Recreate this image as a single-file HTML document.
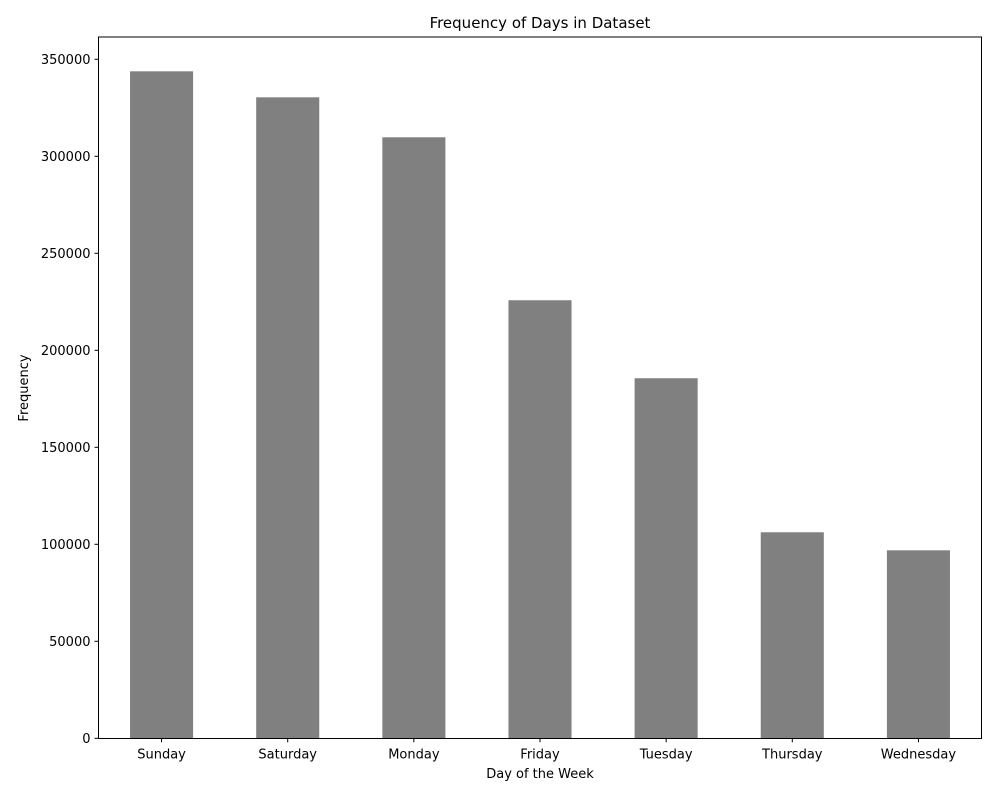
<!DOCTYPE html>
<html><head><meta charset="utf-8"><style>
body{margin:0;background:#fff;}
svg text{font-family:"DejaVu Sans","Liberation Sans",sans-serif;fill:#000;}
</style></head><body>
<svg id="chart" width="1001" height="794" xmlns="http://www.w3.org/2000/svg">
<rect width="1001" height="794" fill="#fff"/>
<text x="540" y="28" font-size="15" text-anchor="middle">Frequency of Days in Dataset</text>
<g id="bars"></g><g id="yticks"></g><g id="xticks"></g>
<rect x="98.5" y="37" width="883" height="701.5" fill="none" stroke="#000" stroke-width="1"/>
<text x="540" y="778" font-size="13" text-anchor="middle">Day of the Week</text>
<text transform="translate(28,388) rotate(-90)" font-size="13" text-anchor="middle">Frequency</text>
</svg>
<script>
const categories=["Sunday","Saturday","Monday","Friday","Tuesday","Thursday","Wednesday"];
const values=[343800,330400,309800,225800,185600,106200,96900];
const yTicks=[0,50000,100000,150000,200000,250000,300000,350000];
const NS="http://www.w3.org/2000/svg";
const L=98.5,R=981.5,B=738.3,pxPer=97/50000;
const y=v=>B-v*pxPer;
const step=(R-L)/categories.length;
const xc=i=>L+step*(i+0.5);
const bars=document.getElementById('bars'),yt=document.getElementById('yticks'),xt=document.getElementById('xticks');
function mk(t,a){const e=document.createElementNS(NS,t);for(const k in a)e.setAttribute(k,a[k]);return e;}
values.forEach((v,i)=>{
 const r=mk('rect',{x:xc(i)-step/4,y:y(v),width:step/2,height:B-y(v),fill:'#808080'});
 
 
 bars.appendChild(r);
 const tk=mk('line',{x1:xc(i),x2:xc(i),y1:B,y2:B+4,stroke:'#000'});
 
 
 xt.appendChild(tk);
 const t=mk('text',{x:xc(i),y:B+20,'font-size':13,'text-anchor':'middle'});
 t.textContent=categories[i];
 
 
 xt.appendChild(t);
});
yTicks.forEach(v=>{
 const tk=mk('line',{x1:L-4,x2:L,y1:y(v),y2:y(v),stroke:'#000'});
 
 
 yt.appendChild(tk);
 const t=mk('text',{x:L-8,y:y(v)+4.5,'font-size':13,'text-anchor':'end'});
 t.textContent=String(v);
 
 
 yt.appendChild(t);
});
</script>
</body></html>
